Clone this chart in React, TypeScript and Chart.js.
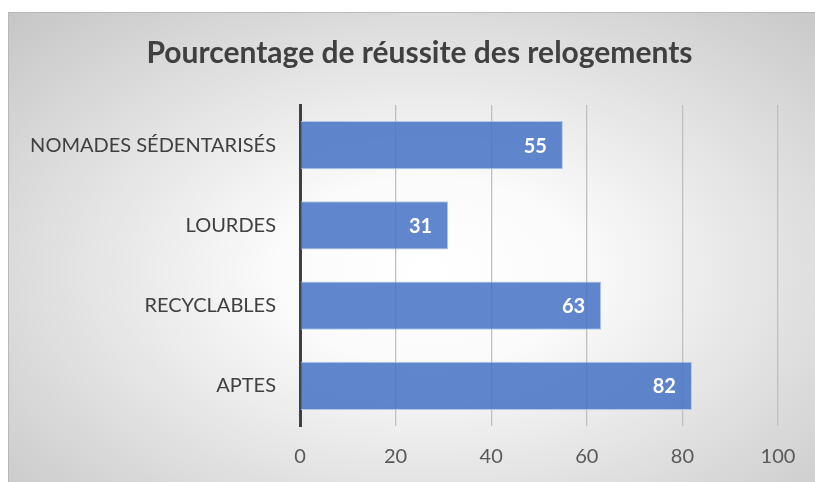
import React, { useEffect, useRef } from 'react';
import { Chart, registerables } from 'chart.js';

Chart.register(...registerables);

const chartTitle = 'Pourcentage de réussite des relogements';
const categories = ['NOMADES SÉDENTARISÉS', 'LOURDES', 'RECYCLABLES', 'APTES'];
const values = [55, 31, 63, 82];
const xMin = 0;
const xMax = 100;
const xStep = 20;

const FONT = 'Lato, "Open Sans", sans-serif';

const titlePlugin = {
  id: 'centeredTitle',
  afterDraw(chart: any) {
    const ctx = chart.ctx;
    ctx.save();
    ctx.font = `bold 30px ${FONT}`;
    ctx.fillStyle = '#404040';
    ctx.textAlign = 'center';
    ctx.textBaseline = 'middle';
    ctx.fillText(chartTitle, chart.width / 2 + 8, 41);
    ctx.restore();
  },
};

const valueLabels = {
  id: 'valueLabels',
  afterDatasetsDraw(chart: any) {
    const ctx = chart.ctx;
    const meta = chart.getDatasetMeta(0);
    ctx.save();
    ctx.font = `bold 20px ${FONT}`;
    ctx.fillStyle = '#ffffff';
    ctx.textAlign = 'right';
    ctx.textBaseline = 'middle';
    meta.data.forEach((bar: any, i: number) => {
      ctx.fillText(String(values[i]), bar.x - 16, bar.y + 1);
    });
    ctx.restore();
  },
};

export default function App() {
  const ref = useRef<HTMLCanvasElement | null>(null);

  useEffect(() => {
    if (!ref.current) return;
    const chart = new Chart(ref.current, {
      type: 'bar',
      data: {
        labels: categories,
        datasets: [
          {
            data: values,
            backgroundColor: 'rgba(68,114,196,0.85)',
            borderColor: 'rgba(175,196,234,0.95)',
            borderWidth: 1,
            barPercentage: 0.6,
            categoryPercentage: 1,
          },
        ],
      },
      options: {
        indexAxis: 'y',
        responsive: false,
        animation: false,
        layout: { padding: { left: 0, right: 37, top: 93, bottom: 0 } },
        plugins: {
          legend: { display: false },
          tooltip: { enabled: false },
          title: { display: false },
        },
        scales: {
          x: {
            min: xMin,
            max: xMax,
            ticks: {
              stepSize: xStep,
              color: '#595959',
              font: { family: FONT, size: 20 },
              padding: 19,
            },
            grid: { color: '#c0c0c0', lineWidth: 1.3, drawTicks: false },
            border: { display: false },
            afterFit(scale: any) {
              scale.height = 56;
            },
          },
          y: {
            ticks: {
              color: '#404040',
              font: { family: FONT, size: 20 },
              padding: 16,
            },
            grid: { display: false },
            border: { display: true, color: '#404040', width: 3 },
            afterFit(scale: any) {
              scale.width = 292;
            },
          },
        },
      },
      plugins: [valueLabels, titlePlugin],
    });
    return () => chart.destroy();
  }, []);

  return (
    <div
      style={{
        position: 'fixed',
        left: 8,
        top: 12,
        width: 807,
        height: 470,
        boxSizing: 'border-box',
        borderTop: '1px solid #b8b8b8',
        borderLeft: '1px solid #b8b8b8',
        background:
          'radial-gradient(ellipse farthest-corner at 52% 55%, #ffffff 0%, #fbfbfb 25%, #c6c6c6 100%)',
      }}
    >
      <canvas
        ref={ref}
        width={807}
        height={470}
        style={{ position: 'absolute', left: -1, top: -1 }}
      />
    </div>
  );
}
